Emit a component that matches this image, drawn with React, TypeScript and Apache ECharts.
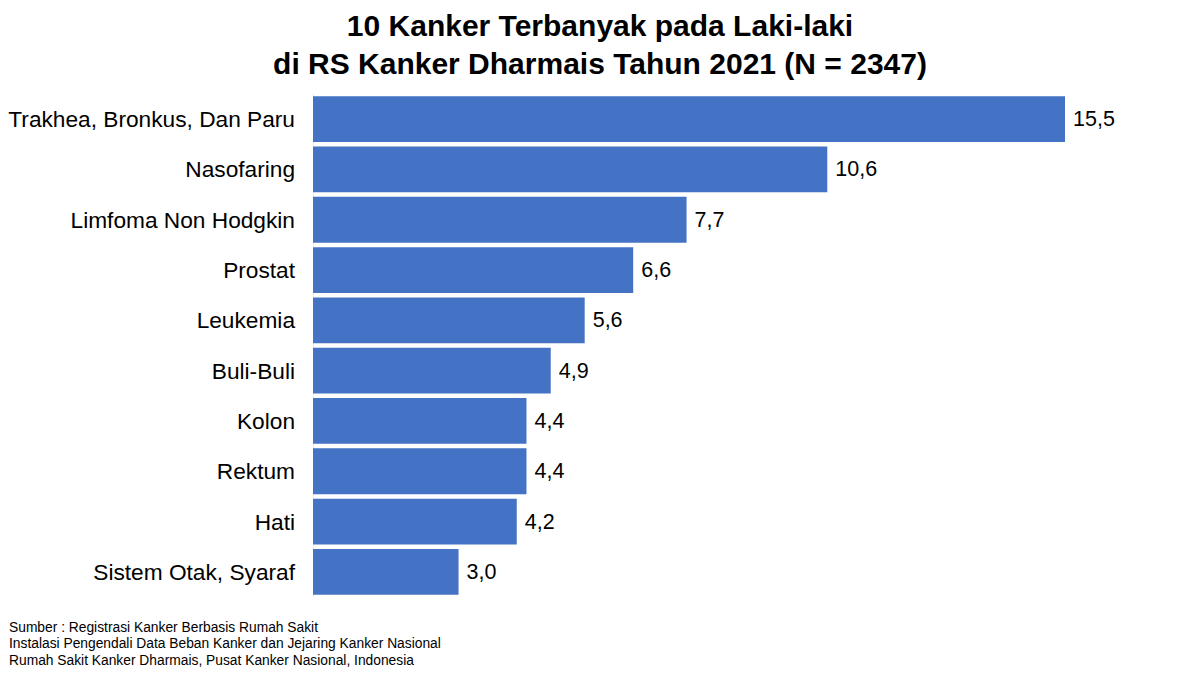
import React, { useEffect, useRef } from "react";
import * as echarts from "echarts";

const categories = [
  "Trakhea, Bronkus, Dan Paru",
  "Nasofaring",
  "Limfoma Non Hodgkin",
  "Prostat",
  "Leukemia",
  "Buli-Buli",
  "Kolon",
  "Rektum",
  "Hati",
  "Sistem Otak, Syaraf",
];
const values = [15.5, 10.6, 7.7, 6.6, 5.6, 4.9, 4.4, 4.4, 4.2, 3.0];
const titleLines = [
  "10 Kanker Terbanyak pada Laki-laki",
  "di RS Kanker Dharmais Tahun 2021 (N = 2347)",
];
const sourceLines = [
  "Sumber : Registrasi Kanker Berbasis Rumah Sakit",
  "Instalasi Pengendali Data Beban Kanker dan Jejaring Kanker Nasional",
  "Rumah Sakit Kanker Dharmais, Pusat Kanker Nasional, Indonesia",
];

const FONT = "Liberation Sans, Arial, sans-serif";

export default function App() {
  const ref = useRef<HTMLDivElement>(null);
  useEffect(() => {
    if (!ref.current) return;
    const chart = echarts.init(ref.current, undefined, { renderer: "svg" });
    chart.setOption({
      animation: false,
      backgroundColor: "#ffffff",
      title: {
        text: titleLines.join("\n"),
        left: "center",
        top: 1,
        textStyle: {
          fontFamily: FONT,
          fontSize: 30,
          fontWeight: "bold",
          color: "#000000",
          lineHeight: 38,
        },
      },
      graphic: [
        {
          type: "text",
          left: 9,
          top: 619,
          style: {
            text: sourceLines.join("\n"),
            fontFamily: FONT,
            fontSize: 13.8,
            lineHeight: 16.5,
            fill: "#000000",
          },
        },
      ],
      grid: {
        left: 313,
        right: 135,
        top: 94,
        height: 503,
        containLabel: false,
      },
      xAxis: {
        type: "value",
        min: 0,
        max: 15.5,
        show: false,
        splitLine: { show: false },
      },
      yAxis: {
        type: "category",
        data: categories,
        inverse: true,
        axisLine: { show: true, lineStyle: { color: "#ececec", width: 1 } },
        axisTick: { show: false },
        axisLabel: {
          fontFamily: FONT,
          fontSize: 22.7,
          color: "#000000",
          margin: 18,
        },
      },
      series: [
        {
          type: "bar",
          data: values,
          barCategoryGap: "9%",
          itemStyle: { color: "#4472C4" },
          label: {
            show: true,
            position: "right",
            distance: 8,
            fontFamily: FONT,
            fontSize: 21.5,
            color: "#000000",
            formatter: (p: any) => Number(p.value).toFixed(1).replace(".", ","),
          },
        },
      ],
    });
    return () => chart.dispose();
  }, []);
  return <div ref={ref} style={{ width: 1200, height: 676, position: "absolute", left: 0, top: 0 }} />;
}
